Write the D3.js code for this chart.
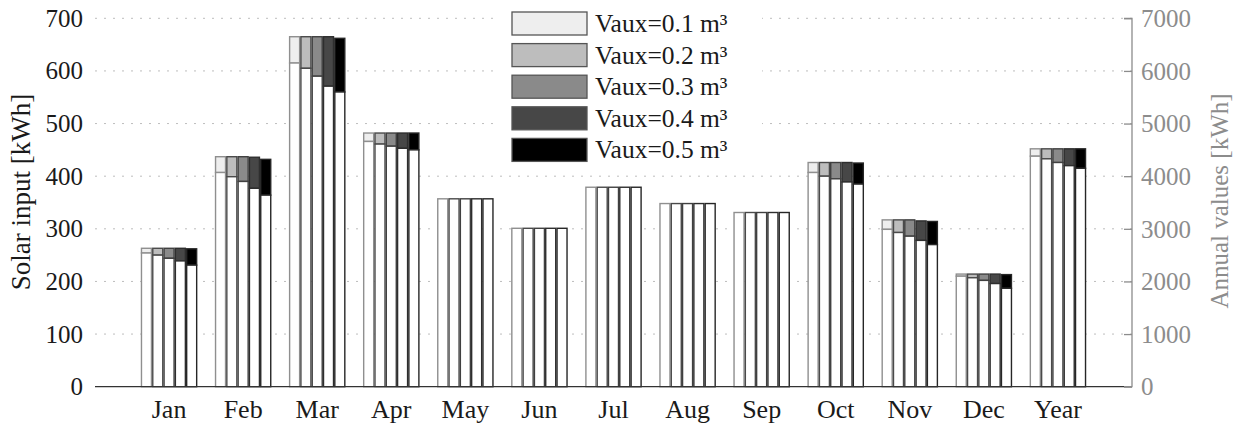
<!DOCTYPE html>
<html>
<head>
<meta charset="utf-8">
<script src="https://cdn.jsdelivr.net/npm/d3@7"></script>
<style>
  body { margin: 0; background: #fff; }
  svg text { font-family: "Liberation Serif", "DejaVu Serif", serif; }
</style>
</head>
<body>
<svg id="chart" width="1241" height="427"></svg>
<script>
// categories
var months = ["Jan","Feb","Mar","Apr","May","Jun","Jul","Aug","Sep","Oct","Nov","Dec","Year"];
var vauxLabels = ["Vaux=0.1 m³","Vaux=0.2 m³","Vaux=0.3 m³","Vaux=0.4 m³","Vaux=0.5 m³"];

// lower (white) part of each bar, kWh (Year in units of 10 kWh on left scale)
var lower01 = [254, 407, 615, 466, 357, 301, 379, 348, 331, 407, 299, 210, 438];
var lower02 = [250, 399, 605, 461, 357, 301, 379, 348, 331, 400, 293, 207, 433];
var lower03 = [244, 390, 590, 457, 357, 301, 379, 348, 331, 395, 286, 202, 426];
var lower04 = [239, 377, 571, 453, 357, 301, 379, 348, 331, 389, 278, 196, 420];
var lower05 = [231, 364, 560, 450, 357, 301, 379, 348, 331, 385, 270, 187, 415];

// bar totals (top of the shaded part)
var total01 = [263, 437, 665, 482, 357, 301, 379, 348, 331, 426, 317, 214, 452];
var total02 = [263, 437, 665, 482, 357, 301, 379, 348, 331, 426, 317, 214, 452];
var total03 = [263, 437, 665, 482, 357, 301, 379, 348, 331, 426, 317, 214, 452];
var total04 = [263, 436, 665, 482, 357, 301, 379, 348, 331, 426, 315, 214, 452];
var total05 = [262, 432, 662, 482, 357, 301, 379, 348, 331, 425, 314, 213, 452];

var lowers = [lower01, lower02, lower03, lower04, lower05];
var totals = [total01, total02, total03, total04, total05];

var fills = ["#eeeeee", "#bdbdbd", "#8a8a8a", "#474747", "#000000"];
var strokes = ["#8f8f8f", "#4a4a4a", "#404040", "#2e2e2e", "#262626"];

var svg = d3.select("#chart");

var x0 = 95, x1 = 1132, yTop = 18.3, yBot = 386.7;

var x = d3.scaleLinear().domain([0, 14]).range([x0, x1]);
var y = d3.scaleLinear().domain([0, 700]).range([yBot, yTop]);
var yR = d3.scaleLinear().domain([0, 7000]).range([yBot, yTop]);

var barW = 10, barStep = 11.3;

// dotted grid
svg.append("g")
  .selectAll("line")
  .data(d3.range(100, 701, 100))
  .enter()
  .append("line")
  .attr("x1", x0).attr("x2", x1)
  .attr("y1", function(d){ return y(d) }).attr("y2", function(d){ return y(d) })
  .attr("stroke", "#bdbdbd")
  .attr("stroke-width", 1)
  .attr("stroke-dasharray", "2,7");

// bars
var bars = svg.append("g");
months.forEach(function(m, i){
  var cx = x(i + 1);
  for (var k = 0; k < 5; k++) {
    var bx = cx - 2.5 * barStep + k * barStep + (barStep - barW) / 2;
    var lo = lowers[k][i], tot = totals[k][i];
    if (tot > lo) {
      bars.append("rect")
        .attr("x", bx).attr("width", barW)
        .attr("y", y(tot)).attr("height", y(lo) - y(tot))
        .attr("fill", fills[k])
        .attr("stroke", strokes[k])
        .attr("stroke-width", 1.4);
    }
    bars.append("rect")
      .attr("x", bx).attr("width", barW)
      .attr("y", y(lo)).attr("height", y(0) - y(lo))
      .attr("fill", "#fff")
      .attr("stroke", strokes[k])
      .attr("stroke-width", 1.4);
  }
});

// baseline
svg.append("line")
  .attr("x1", x0).attr("x2", x1)
  .attr("y1", yBot).attr("y2", yBot)
  .attr("stroke", "#333").attr("stroke-width", 1.3);

// left axis labels (no axis line)
var yAxis = d3.axisLeft(y).tickValues(d3.range(0, 701, 100)).tickSize(0).tickPadding(0);
var gy = svg.append("g")
  .attr("transform", "translate(" + (x0 - 12) + ",0)")
  .call(yAxis);
gy.select(".domain").remove();
gy.selectAll("text")
  .attr("font-size", 25)
  .attr("fill", "#1a1a1a")
  .attr("font-family", "Liberation Serif");

// right axis
var yAxisR = d3.axisLeft(yR).tickValues(d3.range(0, 7001, 1000)).tickSize(8).tickFormat("");
var gr = svg.append("g")
  .attr("transform", "translate(" + x1 + ",0)")
  .call(yAxisR);
gr.select(".domain").attr("stroke", "#8c8c8c").attr("stroke-width", 1.3).attr("d", "M-8," + yTop + "H0V" + yBot + "H-8");
gr.selectAll(".tick line").attr("stroke", "#8c8c8c").attr("stroke-width", 1.3);
svg.append("g")
  .selectAll("text")
  .data(d3.range(0, 7001, 1000))
  .enter()
  .append("text")
  .attr("x", x1 + 9)
  .attr("y", function(d){ return yR(d) })
  .attr("dy", "0.35em")
  .attr("font-size", 25)
  .attr("fill", "#8c8c8c")
  .text(function(d){ return d });

// month labels
svg.append("g")
  .selectAll("text")
  .data(months)
  .enter()
  .append("text")
  .attr("x", function(d, i){ return x(i + 1) })
  .attr("y", 418)
  .attr("text-anchor", "middle")
  .attr("font-size", 26)
  .attr("fill", "#1a1a1a")
  .text(function(d){ return d });

// axis titles
svg.append("text")
  .attr("transform", "translate(30,192) rotate(-90)")
  .attr("text-anchor", "middle")
  .attr("font-size", 27)
  .attr("fill", "#1a1a1a")
  .text("Solar input [kWh]");

svg.append("text")
  .attr("transform", "translate(1228,201) rotate(-90)")
  .attr("text-anchor", "middle")
  .attr("font-size", 25)
  .attr("fill", "#8c8c8c")
  .text("Annual values [kWh]");

// legend
var legend = svg.append("g");
legend.append("rect")
  .attr("x", 500).attr("y", 4).attr("width", 262).attr("height", 162)
  .attr("fill", "#fff");
vauxLabels.forEach(function(lab, k){
  var ly = 12 + k * 31.6;
  legend.append("rect")
    .attr("x", 512).attr("y", ly).attr("width", 75).attr("height", 23)
    .attr("fill", fills[k])
    .attr("stroke", "#555").attr("stroke-width", 1.3);
  legend.append("text")
    .attr("x", 595).attr("y", ly + 20)
    .attr("font-size", 25.5)
    .attr("fill", "#1a1a1a")
    .text(lab);
});
</script>
</body>
</html>
